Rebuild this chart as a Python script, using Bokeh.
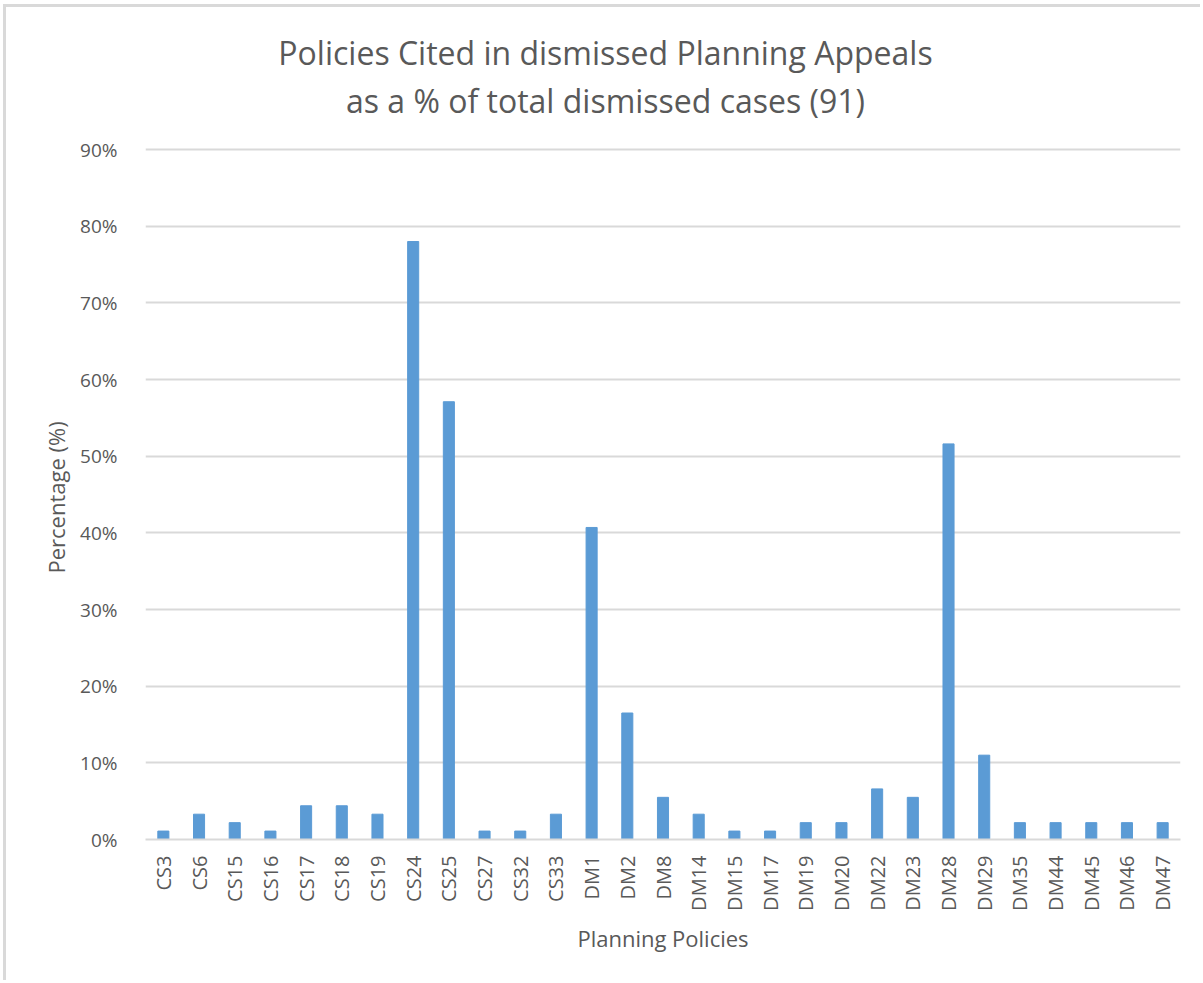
from bokeh.plotting import figure
from bokeh.models import ColumnDataSource, Label, Title, PrintfTickFormatter, FixedTicker
from bokeh.embed import file_html
from bokeh.resources import INLINE

# Policies cited and share of the 91 dismissed cases (%)
policies = ["CS3", "CS6", "CS15", "CS16", "CS17", "CS18", "CS19", "CS24", "CS25",
            "CS27", "CS32", "CS33", "DM1", "DM2", "DM8", "DM14", "DM15", "DM17",
            "DM19", "DM20", "DM22", "DM23", "DM28", "DM29", "DM35", "DM44",
            "DM45", "DM46", "DM47"]
percent = [1.1, 3.3, 2.2, 1.1, 4.4, 4.4, 3.3, 78.0, 57.1,
           1.1, 1.1, 3.3, 40.7, 16.5, 5.5, 3.3, 1.1, 1.1,
           2.2, 2.2, 6.6, 5.5, 51.6, 11.0, 2.2, 2.2,
           2.2, 2.2, 2.2]
y_ticks = [0, 10, 20, 30, 40, 50, 60, 70, 80, 90]
title_lines = ["Policies Cited in dismissed Planning Appeals",
               "as a % of total dismissed cases (91)"]

TEXT = "#595959"
GRID = "#D9D9D9"
BAR = "#5B9BD5"
FONT = "Open Sans"

# The frame runs up to the top of the chart so the title can sit inside it;
# only 0-90 % is ticked and gridded.
PLOT_W = 1197
PLOT_H = 976
LEFT, RIGHT = 139, 23
TOP, BOTTOM = 10, 144
PX_PER_PCT = 690 / 90.0
y_top = (PLOT_H - TOP - BOTTOM) / PX_PER_PCT
px_per_cat = (PLOT_W - LEFT - RIGHT) / len(policies)

source = ColumnDataSource(data=dict(policy=policies, pct=percent))

p = figure(
    x_range=policies, y_range=(0, y_top),
    width=PLOT_W, height=PLOT_H,
    output_backend="svg", toolbar_location=None,
    min_border_left=LEFT, min_border_right=RIGHT,
    min_border_top=TOP, min_border_bottom=BOTTOM,
)
p.styles = {"border-top": "3px solid #D9D9D9", "border-left": "3px solid #D9D9D9",
            "margin-left": "3px", "margin-top": "4px"}

p.vbar(x="policy", top="pct", width=0.31, source=source,
       fill_color=BAR, line_color=BAR)

p.outline_line_color = None
p.background_fill_color = "white"
p.border_fill_color = "white"

# y axis
p.yaxis.ticker = FixedTicker(ticks=y_ticks)
p.yaxis.formatter = PrintfTickFormatter(format="%d%%")
p.yaxis.axis_line_color = None
p.yaxis.major_tick_line_color = None
p.yaxis.minor_tick_line_color = None
p.yaxis.major_label_text_font = FONT
p.yaxis.major_label_text_font_size = "19px"
p.yaxis.major_label_text_color = TEXT
p.yaxis.major_label_standoff = 22
p.yaxis.bounds = (0, 90)

# y axis title, centred on the 0-90 % span rather than the whole frame
p.add_layout(Title(text="Percentage (%)", align="left", offset=266,
                   text_font=FONT, text_font_size="22px", text_font_style="normal",
                   text_color=TEXT, standoff=14), "left")

# x axis
p.xaxis.axis_line_color = GRID
p.xaxis.axis_line_width = 2
p.xaxis.major_tick_line_color = None
p.xaxis.minor_tick_line_color = None
p.xaxis.major_label_orientation = 1.5707963
p.xaxis.major_label_text_font = FONT
p.xaxis.major_label_text_font_size = "20px"
p.xaxis.major_label_text_color = TEXT
p.xaxis.major_label_standoff = 10
p.xaxis.axis_label = "Planning Policies"
p.xaxis.axis_label_text_font = FONT
p.xaxis.axis_label_text_font_size = "22px"
p.xaxis.axis_label_text_font_style = "normal"
p.xaxis.axis_label_text_color = TEXT
p.xaxis.axis_label_standoff = 9

p.xgrid.grid_line_color = None
p.ygrid.grid_line_color = GRID
p.ygrid.grid_line_width = 2

# two-line chart title, centred on the chart area
x_mid = (605 - 6 - LEFT) / px_per_cat
for line, gap in zip(title_lines, (787, 739)):
    p.add_layout(Label(x=x_mid, y=gap / PX_PER_PCT, text=line,
                       text_align="center", text_baseline="middle",
                       text_font=FONT, text_font_size="32px", text_color=TEXT))

open("out.html", "w").write(file_html(p, INLINE))
